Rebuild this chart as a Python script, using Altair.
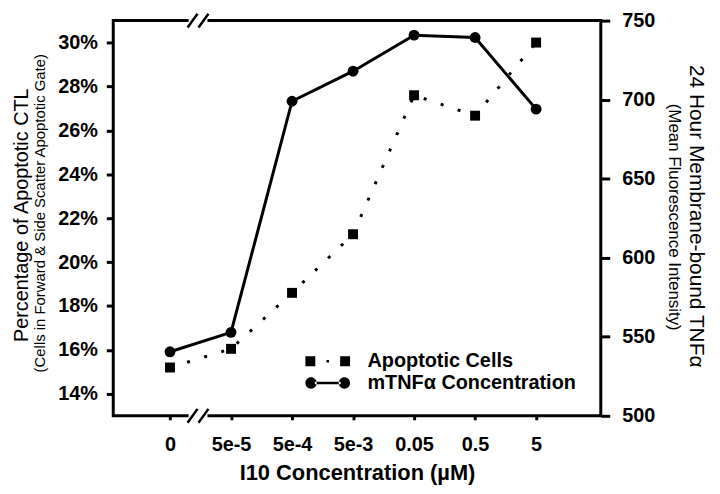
import json
import altair as alt
import pandas as pd

# ---- data ----
categories = ["0", "5e-5", "5e-4", "5e-3", "0.05", "0.5", "5"]
apoptotic_pct = [15.2, 16.05, 18.6, 21.27, 27.6, 26.67, 30.0]
mtnf_mfi = [540.5, 552.8, 699, 718, 740.8, 739.3, 694]
series_names = ["Apoptotic Cells", "mTNFα Concentration"]
left_ticks = [14, 16, 18, 20, 22, 24, 26, 28, 30]
right_ticks = [500, 550, 600, 650, 700, 750]
axis_break_at = [0.5]

df = pd.DataFrame({
    "idx": list(range(len(categories))),
    "label": categories,
    "apop": apoptotic_pct,
    "tnf": mtnf_mfi,
})
brk = pd.DataFrame({"idx": axis_break_at})

W, H = 491, 398
FONT = "Liberation Sans"

# legend symbols (10 px per unit with symbolSize 400)
sym_apop = ("M-2.25,-0.5H-1.25V0.5H-2.25Z "
            "M-0.13,-0.13H0.13V0.13H-0.13Z "
            "M1.25,-0.5H2.25V0.5H1.25Z")
sym_tnf = ("M-2.25,0A0.57,0.57 0 1,0 -1.11,0A0.57,0.57 0 1,0 -2.25,0Z "
           "M-1.3,-0.13H1.3V0.13H-1.3Z "
           "M1.11,0A0.57,0.57 0 1,0 2.25,0A0.57,0.57 0 1,0 1.11,0Z")

xscale = alt.Scale(domain=[-0.93, 7.06], nice=False, zero=False)
xaxis = alt.Axis(
    values=list(range(len(categories))),
    labelExpr=json.dumps(categories) + "[datum.value]",
    title="I10 Concentration (µM)",
    titleFontSize=22, titleFontWeight="bold", titlePadding=8,
    labelFontSize=20, labelFontWeight="bold", labelPadding=15,
    tickSize=4, tickWidth=3, domain=False, grid=False,
)
X = alt.X("idx:Q", scale=xscale, axis=xaxis)

ylscale = alt.Scale(domain=[13, 31], nice=False, zero=False)
ylaxis = alt.Axis(
    values=left_ticks, labelExpr="datum.value + '%'", title=None,
    orient="left", tickSize=7, tickWidth=3, labelPadding=9,
    labelFontSize=20, labelFontWeight="bold", domain=False, grid=False,
)
YL = alt.Y("apop:Q", scale=ylscale, axis=ylaxis)

yrscale = alt.Scale(domain=[500, 750], nice=False, zero=False)
yraxis = alt.Axis(
    values=right_ticks, title=None, orient="right", tickSize=9, tickWidth=3,
    labelPadding=12, labelFontSize=20, labelFontWeight="bold",
    domain=False, grid=False,
)
YR = alt.Y("tnf:Q", scale=yrscale, axis=yraxis)

apop_line = alt.Chart(df).mark_line(
    color="black", strokeWidth=3, strokeDash=[3, 15], strokeCap="butt"
).encode(x=X, y=YL)
apop_pts = alt.Chart(df).mark_square(size=100, color="black", opacity=1).encode(x=X, y=YL)

legend_layer = alt.Chart(df).transform_filter("datum.idx < 0").transform_calculate(
    series="'x'"
).mark_point(filled=True, size=400, color="black", opacity=1).encode(
    x=X, y=YL,
    shape=alt.Shape(
        "series:N",
        scale=alt.Scale(domain=series_names, range=[sym_apop, sym_tnf]),
        legend=alt.Legend(
            title=None, orient="none", legendX=206, legendY=333,
            labelFontSize=20, labelFontWeight="bold", labelFont=FONT,
            labelColor="black", labelOffset=30, labelLimit=400, symbolSize=400,
            symbolFillColor="black", symbolStrokeWidth=0, symbolOpacity=1,
            rowPadding=2, padding=0,
        ),
    ),
)

# axis break marks (top and bottom)
def brk_marks(ypix):
    gap = alt.Chart(brk).mark_rule(color="white", strokeWidth=7, xOffset=-12, x2Offset=7).encode(
        x=X, x2="idx:Q", y=alt.value(ypix))
    s1 = alt.Chart(brk).mark_rule(color="black", strokeWidth=2.5, xOffset=-13, x2Offset=-3).encode(
        x=X, x2="idx:Q", y=alt.value(ypix + 7), y2=alt.value(ypix - 7))
    s2 = alt.Chart(brk).mark_rule(color="black", strokeWidth=2.5, xOffset=-2, x2Offset=8).encode(
        x=X, x2="idx:Q", y=alt.value(ypix + 7), y2=alt.value(ypix - 7))
    return [gap, s1, s2]

def text_layer(txt, x, y, angle, size, weight="normal"):
    return alt.Chart(alt.Data(values=[{"k": 1}])).mark_text(
        text=txt, angle=angle, fontSize=size, font=FONT, fontWeight=weight,
        align="center", baseline="alphabetic", color="black",
    ).encode(x=alt.value(x), y=alt.value(y))

titles = [
    text_layer("Percentage of Apoptotic CTL", -86, 196, 270, 20),
    text_layer("(Cells in Forward & Side Scatter Apoptotic Gate)", -69, 194, 270, 15),
    text_layer("24 Hour Membrane-bound TNFα", 581, 197, 90, 21),
    text_layer("(Mean Fluorescence Intensity)", 560, 198, 90, 17),
]

left_group = alt.layer(apop_line, apop_pts, legend_layer, *brk_marks(0), *brk_marks(H), *titles)
tnf_line = alt.Chart(df).mark_line(color="black", strokeWidth=3).encode(x=X, y=YR)
tnf_pts = alt.Chart(df).mark_circle(size=120, color="black", opacity=1).encode(x=X, y=YR)
right_group = alt.layer(tnf_line, tnf_pts)

chart = alt.layer(left_group, right_group).resolve_scale(y="independent").properties(
    width=W, height=H,
    autosize=alt.AutoSizeParams(type="none"),
    padding={"left": 106, "top": 11, "right": 112, "bottom": 69},
).configure(font=FONT).configure_axis(
    labelColor="black", titleColor="black", tickColor="black", labelFont=FONT, titleFont=FONT,
).configure_view(stroke="black", strokeWidth=3)

chart.save("out.html", embed_options={"renderer": "svg", "actions": False})
